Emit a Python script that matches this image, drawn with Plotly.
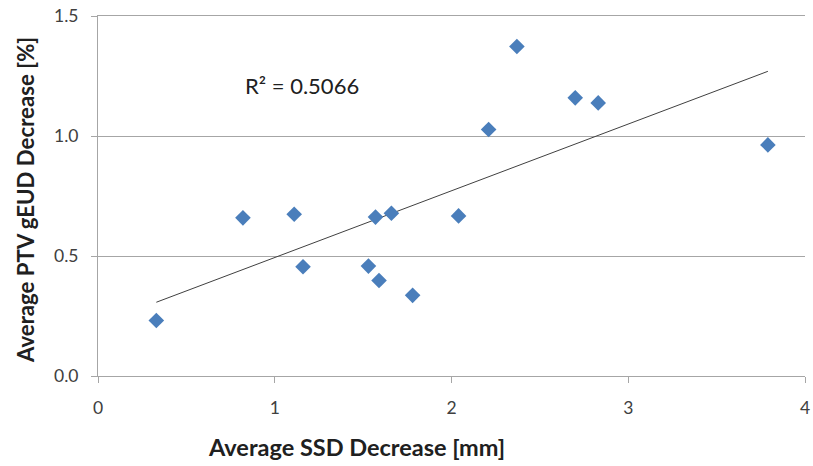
import numpy as np
import plotly.graph_objects as go

ssd_decrease = [0.33, 0.82, 1.11, 1.16, 1.53, 1.57, 1.59, 1.66, 1.78, 2.04, 2.21, 2.37, 2.70, 2.83, 3.79]
geud_decrease = [0.231, 0.659, 0.674, 0.455, 0.458, 0.662, 0.398, 0.678, 0.336, 0.667, 1.027, 1.373, 1.159, 1.138, 0.963]
x_ticks = [0, 1, 2, 3, 4]
y_ticks = [0.0, 0.5, 1.0, 1.5]
y_tick_labels = ["0.0", "0.5", "1.0", "1.5"]
r2_label = "R² = 0.5066"
x_title = "Average SSD Decrease [mm]"
y_title = "Average PTV gEUD Decrease [%]"

FONT = "Lato"
GRID = "#a6a6a6"
TXT = "#404040"

x = np.array(ssd_decrease)
y = np.array(geud_decrease)
slope, intercept = np.polyfit(x, y, 1)
fit_x = [x.min(), x.max()]
fit_y = [slope * v + intercept for v in fit_x]

fig = go.Figure()
fig.add_trace(go.Scatter(x=fit_x, y=fit_y, mode="lines",
                         line=dict(color="#404040", width=1), hoverinfo="skip"))
fig.add_trace(go.Scatter(x=ssd_decrease, y=geud_decrease, mode="markers",
                         marker=dict(symbol="diamond", size=12, color="#4a7ebb",
                                     line=dict(width=0))))

W, H = 813, 466
L, T, R, B = 98, 16, 8, 90
pw, ph = W - L - R, H - T - B


def px_to_paper(px, py):
    return (px - L) / pw, 1 - (py - T) / ph


ax = dict(showline=True, linecolor=GRID, linewidth=1, zeroline=False,
          ticks="outside", ticklen=6, tickcolor=GRID, automargin=False,
          ticklabeloverflow="allow",
          tickfont=dict(size=17.5, color=TXT), fixedrange=True)

fig.update_layout(
    width=W, height=H,
    margin=dict(l=L, r=R, t=T, b=B, autoexpand=False),
    paper_bgcolor="white", plot_bgcolor="white",
    showlegend=False,
    font=dict(family=FONT, color=TXT, size=18),
    xaxis=dict(range=[0, 4], tickvals=x_ticks, showgrid=False, mirror=True,
               ticklabelstandoff=10, **ax),
    yaxis=dict(range=[0, 1.5], tickvals=y_ticks, ticktext=y_tick_labels,
               showgrid=True, gridcolor=GRID, gridwidth=1,
               ticklabelstandoff=9, **ax),
)

ann = [
    (r2_label, 302, 85, 22, 0),
    ("<b>%s</b>" % x_title, 356, 447, 23.5, 0),
    ("<b>%s</b>" % y_title, 25, 200, 22.2, -90),
]
for text, px, py, size, ang in ann:
    ax_, ay_ = px_to_paper(px, py)
    fig.add_annotation(text=text, x=ax_, y=ay_, xref="paper", yref="paper",
                       xanchor="center", yanchor="middle", textangle=ang,
                       showarrow=False, font=dict(size=size, color="#202020"))

fig.write_html("out.html",
               config={"displayModeBar": False, "staticPlot": True},
               post_script="document.body.style.margin='0';document.body.style.overflow='hidden';")
